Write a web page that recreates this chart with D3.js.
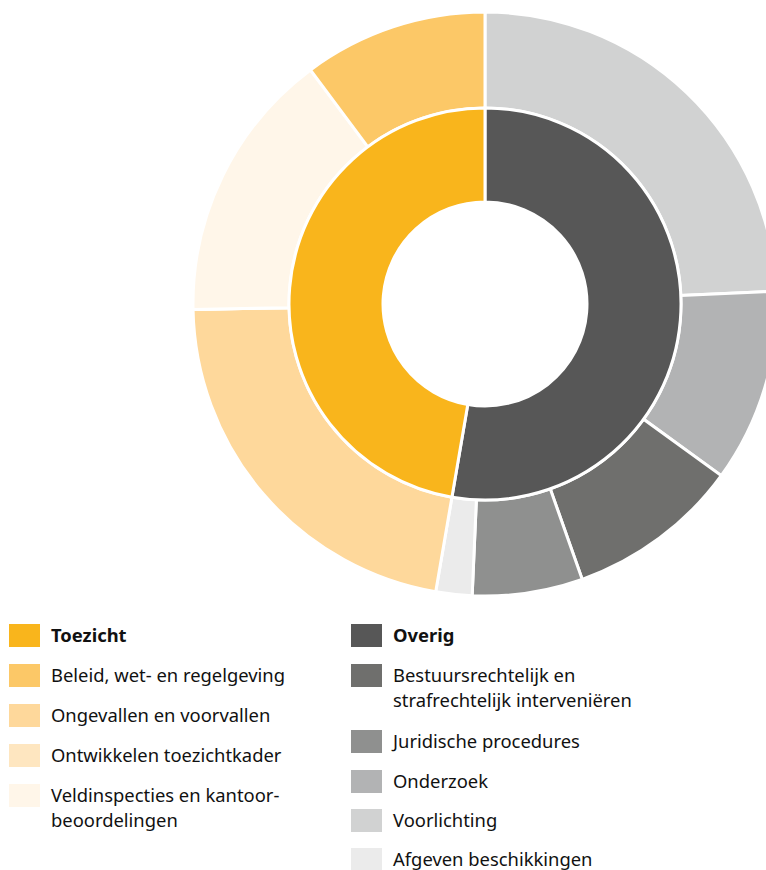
<!DOCTYPE html>
<html>
<head>
<meta charset="utf-8">
<script src="https://cdn.jsdelivr.net/npm/d3@7"></script>
<style>
  body { margin: 0; background: #fff; }
  svg { display: block; font-family: "Noto Sans", "Open Sans", sans-serif; }
</style>
</head>
<body>
<svg id="chart" width="766" height="870"></svg>
<script>
// inner ring: main groups
var groupNames = ["Overig", "Toezicht"];
var groupValues = [52.7, 47.3];
var groupColors = ["#575757", "#f9b51c"];

// outer ring: sub tasks, clockwise from the top
var subNames = [
  "Voorlichting",
  "Onderzoek",
  "Bestuursrechtelijk en strafrechtelijk interveniëren",
  "Juridische procedures",
  "Afgeven beschikkingen",
  "Ongevallen en voorvallen",
  "Ontwikkelen toezichtkader",
  "Veldinspecties en kantoorbeoordelingen",
  "Beleid, wet- en regelgeving"
];
var subValues = [24.3, 10.7, 9.6, 6.1, 2.0, 22.0, 0, 15.1, 10.2];
var subColors = [
  "#d1d2d2", "#b2b3b4", "#6f6f6d", "#8f908f", "#ebebeb",
  "#fed89b", "#fee6c0", "#fff6e9", "#fcc867"
];

// legend columns
var legendLeft = [
  { label: ["Toezicht"], color: "#f9b51c", bold: true },
  { label: ["Beleid, wet- en regelgeving"], color: "#fcc867" },
  { label: ["Ongevallen en voorvallen"], color: "#fed89b" },
  { label: ["Ontwikkelen toezichtkader"], color: "#fee6c0" },
  { label: ["Veldinspecties en kantoor-", "beoordelingen"], color: "#fff6e9" }
];
var legendRight = [
  { label: ["Overig"], color: "#575757", bold: true },
  { label: ["Bestuursrechtelijk en", "strafrechtelijk interveniëren"], color: "#6f6f6d" },
  { label: ["Juridische procedures"], color: "#8f908f" },
  { label: ["Onderzoek"], color: "#b2b3b4" },
  { label: ["Voorlichting"], color: "#d1d2d2" },
  { label: ["Afgeven beschikkingen"], color: "#ebebeb" }
];

var svg = d3.select("#chart");
var cx = 485, cy = 304;

var pie = d3.pie().sort(null).value(function(d) { return d; });

var innerArc = d3.arc().innerRadius(102).outerRadius(196);
var outerArc = d3.arc().innerRadius(196).outerRadius(292);

var ringG = svg.append("g").attr("transform", "translate(" + cx + "," + cy + ")");

ringG
  .selectAll(".outer")
  .data(pie(subValues))
  .enter()
  .append("path")
  .attr("class", "outer")
  .attr("d", outerArc)
  .style("fill", function(d, i) { return subColors[i]; })
  .style("stroke", "white")
  .style("stroke-width", "3px");

ringG
  .selectAll(".inner")
  .data(pie(groupValues))
  .enter()
  .append("path")
  .attr("class", "inner")
  .attr("d", innerArc)
  .style("fill", function(d, i) { return groupColors[i]; })
  .style("stroke", "white")
  .style("stroke-width", "3px");

function drawLegend(items, x0, textX, rowY) {
  var g = svg.append("g");
  items.forEach(function(item, i) {
    var y = rowY[i];
    g.append("rect")
      .attr("x", x0)
      .attr("y", y)
      .attr("width", 31)
      .attr("height", 23)
      .style("fill", item.color);
    var t = g.append("text")
      .attr("x", textX)
      .attr("y", y + 18)
      .style("font-size", "18.4px")
      .style("font-weight", item.bold ? "bold" : "normal")
      .style("fill", "#111");
    item.label.forEach(function(line, j) {
      t.append("tspan")
        .attr("x", textX)
        .attr("dy", j === 0 ? 0 : 25)
        .text(line);
    });
  });
}

drawLegend(legendLeft, 9, 51, [624, 664, 704, 744, 784]);
drawLegend(legendRight, 351, 393, [624, 664, 730, 770, 809, 848]);
</script>
</body>
</html>
